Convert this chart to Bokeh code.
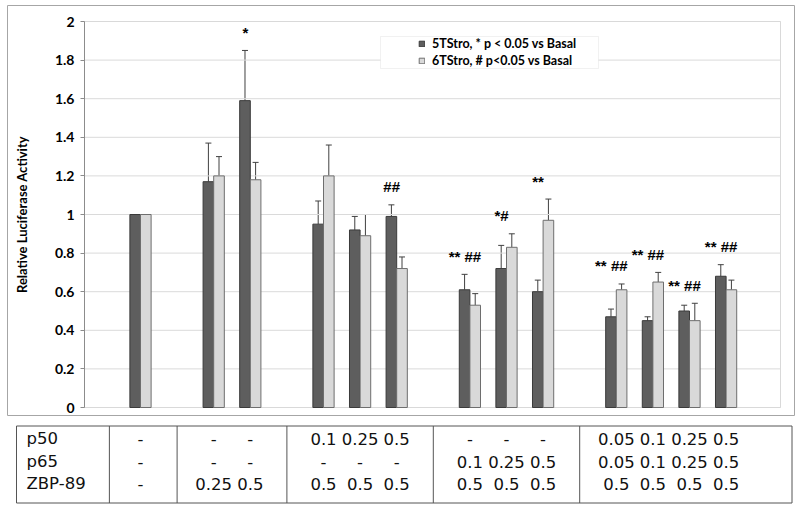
import numpy as np
from bokeh.plotting import figure
from bokeh.models import (ColumnDataSource, Range1d, Whisker, TeeHead, Legend, LegendItem,
                          BoxAnnotation, FixedTicker)
from bokeh.layouts import column
from bokeh.embed import file_html
from bokeh.resources import INLINE
from bokeh.core.properties import value

# ---------------- data ----------------
group_sizes = [1, 2, 3, 3, 4]
tst5 = [1.00, 1.17, 1.59, 0.95, 0.92, 0.99, 0.61, 0.72, 0.60, 0.47, 0.45, 0.50, 0.68]
tst5_err = [0.0, 0.20, 0.26, 0.12, 0.07, 0.06, 0.08, 0.12, 0.06, 0.04, 0.02, 0.03, 0.06]
tst6 = [1.00, 1.20, 1.18, 1.20, 0.89, 0.72, 0.53, 0.83, 0.97, 0.61, 0.65, 0.45, 0.61]
tst6_err = [0.0, 0.10, 0.09, 0.16, 0.11, 0.06, 0.06, 0.07, 0.11, 0.03, 0.05, 0.09, 0.05]
signif = ["", "", "*", "", "", "##", "** ##", "*#", "**", "** ##", "** ##", "** ##", "** ##"]
series_names = ["5TStro, * p < 0.05 vs Basal", "6TStro, # p<0.05 vs Basal"]
row_labels = ["p50", "p65", "ZBP-89"]
p50 = ["-", "-", "-", "0.1", "0.25", "0.5", "-", "-", "-", "0.05", "0.1", "0.25", "0.5"]
p65 = ["-", "-", "-", "-", "-", "-", "0.1", "0.25", "0.5", "0.05", "0.1", "0.25", "0.5"]
zbp = ["-", "0.25", "0.5", "0.5", "0.5", "0.5", "0.5", "0.5", "0.5", "0.5", "0.5", "0.5", "0.5"]
y_ticks = [0, 0.2, 0.4, 0.6, 0.8, 1.0, 1.2, 1.4, 1.6, 1.8, 2.0]
y_tick_labels = ["0", "0.2", "0.4", "0.6", "0.8", "1", "1.2", "1.4", "1.6", "1.8", "2"]
y_title = "Relative Luciferase Activity"

# ---------------- layout helpers ----------------
gidx = np.repeat(np.arange(len(group_sizes)), group_sizes)
pos = np.arange(len(tst5)) + gidx          # one empty slot between groups
bw = 0.29
PX = 36.6                                   # pixels per slot
PY = 193.0                                  # pixels per unit of y
Y0PAGE = 407                                # page y of value 0
FL, FR, FT, FB = 7, 6, 5, 3                 # frame = whole chart area
FW, FH = 787, 410
x0 = pos[0] - (140 - FL) / PX
x1 = x0 + FW / PX


def xd(px_page):
    return x0 + (px_page - FL) / PX


def yd(py_page):
    return (Y0PAGE - py_page) / PY


PL, PR, PT = 84, 780, 21                    # plot area edges (page px)

a5, e5 = np.array(tst5), np.array(tst5_err)
a6, e6 = np.array(tst6), np.array(tst6_err)

p = figure(frame_width=FW, frame_height=FH, min_border_left=FL, min_border_right=FR,
           min_border_top=FT, min_border_bottom=FB, x_range=Range1d(x0, x1),
           y_range=Range1d(yd(FT + FH), yd(FT)), output_backend="svg",
           toolbar_location=None, title=None, frame_align=False)
p.xaxis.visible = False
p.xgrid.visible = False
p.ygrid.visible = False
p.outline_line_color = "#a6a6a6"
p.background_fill_color = "white"
p.border_fill_color = "white"

# gridlines and plot-area border
p.segment(x0=[xd(PL)] * len(y_ticks), x1=[xd(PR)] * len(y_ticks), y0=y_ticks, y1=y_ticks,
          line_color="#dadada", line_width=1)
p.quad(left=[xd(PL)], right=[xd(PR)], bottom=[y_ticks[0]], top=[y_ticks[-1]],
       fill_alpha=0, line_color="#d9d9d9", line_width=1)

ya = p.yaxis[0]
ya.fixed_location = xd(PL)
ya.bounds = (y_ticks[0], y_ticks[-1])
ya.ticker = FixedTicker(ticks=y_ticks)
ya.major_label_overrides = {float(t): l for t, l in zip(y_ticks, y_tick_labels)}
ya.major_label_overrides.update({int(t): l for t, l in zip(y_ticks, y_tick_labels) if float(t).is_integer()})
ya.axis_line_color = "#8c8c8c"
ya.major_tick_line_color = "#8c8c8c"
ya.major_tick_out = 4
ya.major_tick_in = 0
ya.minor_tick_line_color = None
ya.major_label_standoff = 6
ya.major_label_text_font = "Lato"
ya.major_label_text_font_style = "bold"
ya.major_label_text_font_size = "14px"
ya.major_label_text_color = "black"
ya.axis_label = y_title
ya.axis_label_text_font = "Lato"
ya.axis_label_text_font_style = "bold"
ya.axis_label_text_font_size = "13px"
ya.axis_label_text_color = "black"
ya.axis_label_standoff = 22

src5 = ColumnDataSource(dict(x=pos - bw / 2, top=a5))
src6 = ColumnDataSource(dict(x=pos + bw / 2, top=a6))
r5 = p.vbar(x="x", top="top", width=bw, source=src5, fill_color="#5e5e5e",
            line_color="#3a3a3a", line_width=1)
r6 = p.vbar(x="x", top="top", width=bw, source=src6, fill_color="#d9d9d9",
            line_color="#6e6e6e", line_width=1)


def whisk(xs, tops, errs):
    m = errs > 0
    s = ColumnDataSource(dict(x=xs[m], lo=tops[m], hi=(tops + errs)[m]))
    w = Whisker(source=s, base="x", lower="lo", upper="hi", line_color="#404040",
                line_width=1, lower_head=None,
                upper_head=TeeHead(size=6, line_color="#404040", line_width=1))
    p.add_layout(w)


whisk(pos - bw / 2, a5, e5)
whisk(pos + bw / 2, a6, e6)

top_max = np.maximum(a5 + e5, a6 + e6)
ann = ColumnDataSource(dict(x=pos, y=top_max, t=signif))
p.text(x="x", y="y", text="t", source=ann, text_align="center", text_baseline="middle",
       x_offset=-5, y_offset=-18, text_font=value("Liberation Sans"), text_font_style="bold",
       text_font_size="15px", text_color="black")

p.add_layout(BoxAnnotation(left=xd(380), right=xd(598), top=yd(36), bottom=yd(68),
                           fill_color="white", fill_alpha=1, line_color="#cfcfcf",
                           line_width=1))
legend = Legend(items=[LegendItem(label=series_names[0], renderers=[r5]),
                       LegendItem(label=series_names[1], renderers=[r6])],
                location=(418 - FL, FT + FH - 68), orientation="vertical",
                glyph_width=7, glyph_height=7,
                label_height=14, spacing=2, padding=0, margin=0, label_standoff=7,
                border_line_color=None, background_fill_alpha=0,
                label_text_font="Lato", label_text_font_style="bold",
                label_text_font_size="12.5px", label_text_color="black")
p.add_layout(legend)

# ---------------- table ----------------
TW, TH = 800, 88
X0 = x0 - FL / PX
X1 = X0 + TW / PX
t = figure(frame_width=TW, frame_height=TH, min_border=0, x_range=Range1d(X0, X1),
           y_range=Range1d(TH, 0), x_axis_type=None, y_axis_type=None,
           output_backend="svg", toolbar_location=None, title=None, frame_align=False)
t.grid.visible = False
t.outline_line_color = None


def tx(px):
    return X0 + px / PX


top_y, bot_y = 7.5, 84.5
t.quad(left=[tx(16)], right=[tx(791.5)], top=[top_y], bottom=[bot_y], fill_alpha=0,
       line_color="#555555", line_width=1)
ends = np.cumsum(group_sizes)[:-1]
divs = [pos[0] - 0.85] + [(pos[e - 1] + pos[e]) / 2 for e in ends]
t.segment(x0=divs, y0=[top_y] * len(divs), x1=divs, y1=[bot_y] * len(divs),
          line_color="#555555", line_width=1)
row_y = [20, 43, 65]
for ry, lab, vals in zip(row_y, row_labels, [p50, p65, zbp]):
    t.text(x=[tx(26)], y=[ry], text=[lab], text_align="left", text_baseline="middle",
           text_font=value("DejaVu Sans"), text_font_size="16.5px", text_color="#111111")
    t.text(x=list(pos), y=[ry] * len(vals), text=vals, text_align="center",
           text_baseline="middle", text_font=value("DejaVu Sans"), text_font_size="16.5px",
           text_color="#111111")

layout = column(p, t, spacing=0)
open("out.html", "w").write(file_html(layout, INLINE))
